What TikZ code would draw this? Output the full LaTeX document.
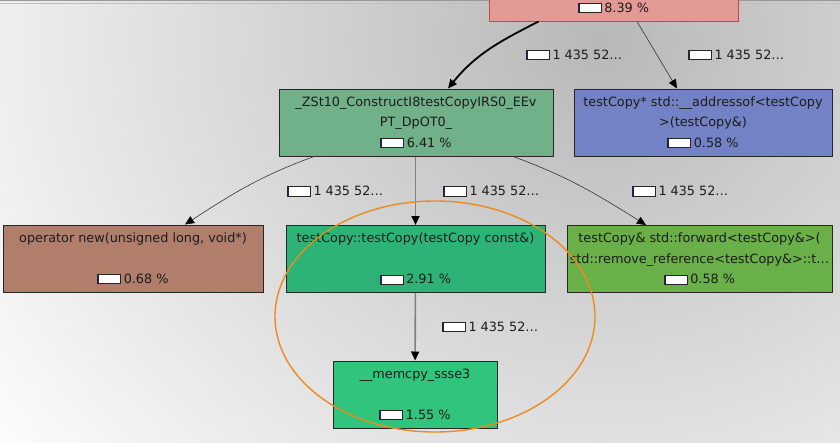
\documentclass[tikz,border=0pt]{standalone}
\usepackage{fontspec}
\setmainfont{DejaVu Sans}
\usetikzlibrary{arrows.meta}

\definecolor{rootfill}{RGB}{227,154,150}
\definecolor{rootline}{RGB}{200,72,72}
\definecolor{constructfill}{RGB}{112,177,137}
\definecolor{addrfill}{RGB}{115,130,197}
\definecolor{newfill}{RGB}{177,126,108}
\definecolor{ctorfill}{RGB}{46,179,119}
\definecolor{fwdfill}{RGB}{106,176,72}
\definecolor{memfill}{RGB}{48,196,125}
\definecolor{barblue}{RGB}{30,30,120}
\definecolor{textdark}{RGB}{28,28,28}
\definecolor{ringorange}{RGB}{234,140,30}

\newcommand{\nodefont}{\fontsize{12.8}{20.5}\selectfont}
\newcommand{\costbar}{{\setlength{\fboxsep}{0pt}\setlength{\fboxrule}{0.8pt}%
    \fcolorbox{black!85}{white}{\textcolor{barblue}{\rule{1.2pt}{8.6pt}}\hspace{21pt}}}\hspace{2.5pt}}

\begin{document}
\begin{tikzpicture}[x=1pt, y=-1pt,
    fn/.style={draw=black!85, line width=1pt, minimum height=67pt, inner sep=0pt,
        align=center, font=\nodefont, text=textdark},
    cost/.style={anchor=west, inner sep=0pt, font=\nodefont, text=textdark},
    call/.style={-{Triangle[length=9pt,width=8pt,color=black]}, line width=0.6pt, draw=black!80},
    hot/.style={call, line width=1.8pt, draw=black},
    flow/.style={call, line width=1.6pt, draw=black!50}]
    \useasboundingbox (0,0) rectangle (840,442);
    \clip (0,0) rectangle (840,442);

    % Background shadow
    \fill[white] (0,0) rectangle (840,442);
    \shade[inner color=black!28, outer color=white] (600,40) ellipse (780 and 700);
    \draw[black!40, line width=0.8pt] (0,0.6) -- (840,0.6);
    \draw[black!25, line width=0.6pt] (0,2.8) -- (840,2.8);

    % Functions
    \node[fn, fill=rootfill, draw=rootline, minimum width=249pt] (root) at (613.5,-12.5)
        {\vphantom{8}\\ \mbox{}\\ \costbar 8.39 \%};
    \node[fn, fill=constructfill, minimum width=274pt] (construct) at (416,122.5)
        {\_ZSt10\_ConstructI8testCopyIRS0\_EEv\\ PT\_DpOT0\_\\ \costbar 6.41 \%};
    \node[fn, fill=addrfill, minimum width=258pt] (addressof) at (703,122.5)
        {testCopy* std::\_\_addressof<testCopy\\ >(testCopy\&)\\ \costbar 0.58 \%};
    \node[fn, fill=newfill, minimum width=260pt] (opnew) at (133,258.5)
        {operator new(unsigned long, void*)\\ \mbox{}\\ \costbar 0.68 \%};
    \node[fn, fill=ctorfill, minimum width=259pt] (copyctor) at (415.5,259)
        {testCopy::testCopy(testCopy const\&)\\ \mbox{}\\ \costbar 2.91 \%};
    \node[fn, fill=fwdfill, minimum width=265pt] (forward) at (699.5,259)
        {testCopy\& std::forward<testCopy\&>(\\ std::remove\_reference<testCopy\&>::t…\\ \costbar 0.58 \%};
    \node[fn, fill=memfill, minimum width=164pt] (memcpy) at (415,394.5)
        {\_\_memcpy\_ssse3\\ \mbox{}\\ \costbar 1.55 \%};

    % Call counts
    \node[cost] (c1) at (526,55) {\costbar 1 435 52…};
    \node[cost] (c2) at (688,55) {\costbar 1 435 52…};
    \node[cost] (c3) at (287,191.5) {\costbar 1 435 52…};
    \node[cost] (c4) at (443,191.5) {\costbar 1 435 52…};
    \node[cost] (c5) at (632,191.5) {\costbar 1 435 52…};
    \node[cost] (c6) at (442,327) {\costbar 1 435 52…};

    % Calls
    \draw[hot] ([xshift=-75pt]root.south) to[out=207, in=51] ([xshift=32pt]construct.north);
    \draw[call] ([xshift=23.5pt]root.south) -- ([xshift=-26pt]addressof.north);
    \draw[call] ([xshift=-102pt]construct.south) to[out=200, in=33] ([xshift=52pt]opnew.north);
    \draw[call] ([xshift=97pt]construct.south) to[out=-20, in=148] ([xshift=-53.5pt]forward.north);
    \draw[flow] (construct.south -| copyctor) -- (copyctor.north);
    \draw[flow] (copyctor) -- (memcpy);

    % Highlight
    \draw[ringorange, line width=1.4pt] (435,316.5) ellipse (160 and 115.5);
\end{tikzpicture}
\end{document}
